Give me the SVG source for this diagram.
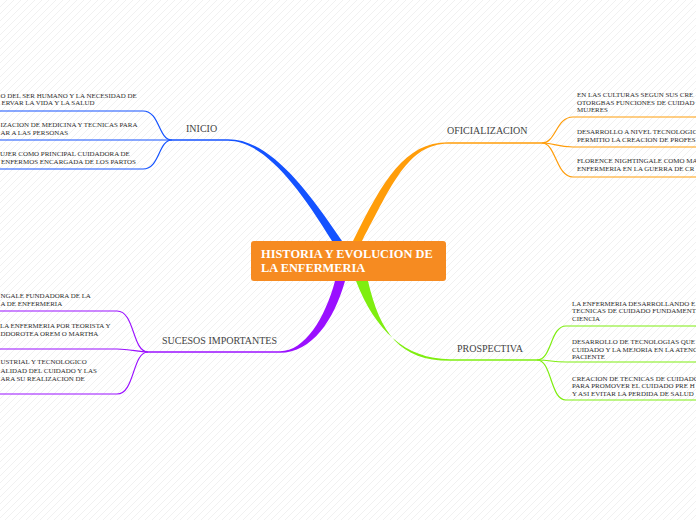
<svg xmlns="http://www.w3.org/2000/svg" width="696" height="520" viewBox="0 0 696 520">
<defs>
<pattern id="stripes" patternUnits="userSpaceOnUse" width="7" height="7">
<path d="M-1 8 L8 -1" stroke="#f1f1f1" stroke-width="1"/>
</pattern>
</defs>
<style>
.item{font-family:"Liberation Serif","Times New Roman",serif;font-size:6.95px;fill:#2e2e2e}
.lbl{font-family:"Liberation Serif","Times New Roman",serif;font-size:10px;fill:#444444}
.main{font-family:"Liberation Serif","Times New Roman",serif;font-size:12.4px;font-weight:bold;fill:#ffffff}
.thin{fill:none;stroke-width:1.2}
.blue{stroke:#1452ff}
.orange{stroke:#ff9d0a}
.purple{stroke:#9a10ff}
.green{stroke:#7fee10}
</style>
<rect width="696" height="520" fill="#ffffff"/>
<rect width="696" height="520" fill="url(#stripes)"/>

<g id="connectors">
  <!-- main tapered branches -->
  <path d="M172 139.2 L228 139.2 C265 139.2, 300 178, 342 241 L332 241 C296 182, 262 140.8, 228 140.8 L172 140.8 Z" fill="#1452ff"/>
  <path d="M353 241 C383 180, 405 142.2, 448 142.2 L542 142.2 L542 143.8 L448 143.8 C408 143.8, 392 185, 362 241 Z" fill="#ff9d0a"/>
  <path d="M335 281 C325 318, 305 351.2, 280 351.2 L148 351.2 L148 352.8 L280 352.8 C312 352.8, 334 320, 345 281 Z" fill="#9a10ff"/>
  <path d="M356 281 C375 330, 405 359.2, 450 359.2 L537 359.2 L537 360.8 L450 360.8 C400 360.8, 380 333, 368 281 Z" fill="#7fee10"/>

  <!-- INICIO sub-branches -->
  <path class="thin blue" d="M172 140 C158 140, 160 111, 143 111 L0 111"/>
  <path class="thin blue" d="M172 140 L0 140"/>
  <path class="thin blue" d="M172 140 C158 140, 160 169, 143 169 L0 169"/>

  <!-- OFICIALIZACION sub-branches -->
  <path class="thin orange" d="M542 143 C556 143, 556 117, 573 117 L696 117"/>
  <path class="thin orange" d="M542 143 C556 143, 556 147, 573 147 L696 147"/>
  <path class="thin orange" d="M542 143 C556 143, 556 177, 573 177 L696 177"/>

  <!-- SUCESOS IMPORTANTES sub-branches -->
  <path class="thin purple" d="M148 352 C132 352, 135 311, 117 311 L0 311"/>
  <path class="thin purple" d="M148 352 C138 352, 130 349, 117 349 L0 349"/>
  <path class="thin purple" d="M148 352 C132 352, 135 394, 117 394 L0 394"/>

  <!-- PROSPECTIVA sub-branches -->
  <path class="thin green" d="M537 360 C552 360, 550 326, 566 326 L696 326"/>
  <path class="thin green" d="M537 360 C552 360, 550 362, 566 362 L696 362"/>
  <path class="thin green" d="M537 360 C552 360, 550 400, 566 400 L696 400"/>
</g>

<g id="central">
  <rect x="251" y="241" width="195" height="40" rx="3" fill="#f68b21"/>
  <text class="main" x="261" y="258">HISTORIA Y EVOLUCION DE</text>
  <text class="main" x="261" y="272">LA ENFERMERIA</text>
</g>

<g id="inicio"><text class="lbl" x="186" y="132">INICIO</text></g>
<g id="oficializacion"><text class="lbl" x="447" y="134">OFICIALIZACION</text></g>
<g id="sucesos"><text class="lbl" x="162" y="344">SUCESOS IMPORTANTES</text></g>
<g id="prospectiva"><text class="lbl" x="457" y="352">PROSPECTIVA</text></g>

<g id="inicio-1">
  <text class="item" x="0.5" y="97.5">O DEL SER HUMANO Y LA NECESIDAD DE</text>
  <text class="item" x="1.5" y="105">ERVAR LA VIDA Y LA SALUD</text>
</g>
<g id="inicio-2">
  <text class="item" x="0.5" y="126.5">IZACION DE MEDICINA Y TECNICAS PARA</text>
  <text class="item" x="0.5" y="134.5">AR A LAS PERSONAS</text>
</g>
<g id="inicio-3">
  <text class="item" x="0" y="155.5">UJER COMO PRINCIPAL CUIDADORA  DE</text>
  <text class="item" x="1" y="164">ENFERMOS ENCARGADA DE LOS PARTOS</text>
</g>

<g id="oficializacion-1">
  <text class="item" x="577" y="97">EN LAS CULTURAS SEGUN SUS CRE</text>
  <text class="item" x="577" y="104.5">OTORGBAS FUNCIONES DE CUIDAD</text>
  <text class="item" x="577" y="112">MUJERES</text>
</g>
<g id="oficializacion-2">
  <text class="item" x="577" y="134">DESARROLLO A NIVEL TECNOLOGIC</text>
  <text class="item" x="577" y="142">PERMITIO LA CREACION DE PROFES</text>
</g>
<g id="oficializacion-3">
  <text class="item" x="577" y="163">FLORENCE NIGHTINGALE COMO MA</text>
  <text class="item" x="577" y="171">ENFERMERIA EN LA GUERRA DE CR</text>
</g>

<g id="sucesos-1">
  <text class="item" x="0.5" y="297.5">NGALE FUNDADORA DE LA</text>
  <text class="item" x="0.5" y="306">A DE ENFERMERIA</text>
</g>
<g id="sucesos-2">
  <text class="item" x="0" y="327.5">LA ENFERMERIA POR TEORISTA Y</text>
  <text class="item" x="0.5" y="336">DDOROTEA OREM O MARTHA</text>
</g>
<g id="sucesos-3">
  <text class="item" x="0.5" y="364">USTRIAL Y TECNOLOGICO</text>
  <text class="item" x="0.5" y="372.5">ALIDAD DEL CUIDADO Y LAS</text>
  <text class="item" x="0.5" y="381">ARA SU REALIZACION DE</text>
</g>

<g id="prospectiva-1">
  <text class="item" x="572" y="305.5">LA ENFERMERIA DESARROLLANDO E</text>
  <text class="item" x="572" y="313">TECNICAS DE CUIDADO FUNDAMENT</text>
  <text class="item" x="572" y="321">CIENCIA</text>
</g>
<g id="prospectiva-2">
  <text class="item" x="572" y="344">DESARROLLO DE TECNOLOGIAS QUE</text>
  <text class="item" x="572" y="351.5">CUIDADO Y LA MEJORIA EN LA ATENC</text>
  <text class="item" x="572" y="359">PACIENTE</text>
</g>
<g id="prospectiva-3">
  <text class="item" x="572" y="380.5">CREACION DE TECNICAS DE CUIDADO</text>
  <text class="item" x="572" y="388">PARA PROMOVER EL CUIDADO PRE H</text>
  <text class="item" x="572" y="395.5">Y ASI EVITAR LA PERDIDA DE SALUD</text>
</g>
</svg>
